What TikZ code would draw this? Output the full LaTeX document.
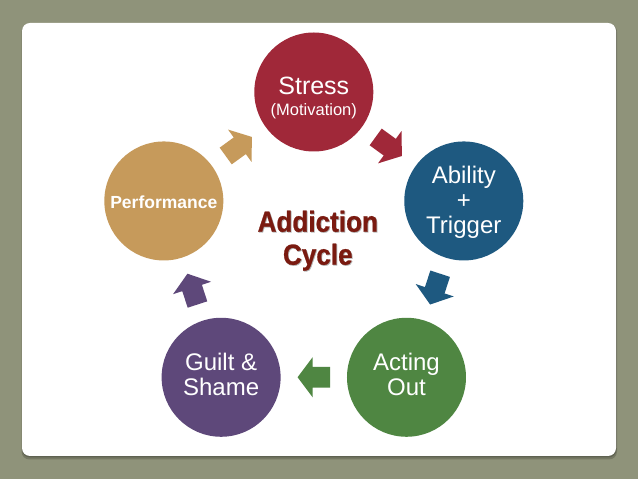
\documentclass[tikz,border=0pt]{standalone}
\usepackage{fontspec}
\setmainfont{Liberation Sans}
\newfontfamily\titlefont[FakeBold=0.9]{Liberation Sans Bold}
\usetikzlibrary{calc}
\definecolor{bgc}{RGB}{143,147,122}
\definecolor{cred}{RGB}{160,40,57}
\definecolor{cblue}{RGB}{30,89,128}
\definecolor{cgreen}{RGB}{79,134,66}
\definecolor{cpurple}{RGB}{94,72,122}
\definecolor{ctan}{RGB}{198,154,91}
\definecolor{ctitle}{RGB}{122,26,16}
\begin{document}
\begin{tikzpicture}[x=1pt,y=1pt,
  ball/.style={circle, minimum size=119pt, inner sep=0pt, fill=#1},
  lbl/.style={text=white, align=center, inner sep=0pt, font=\fontsize{24}{25}\selectfont},
  titlestyle/.style={align=center, inner sep=0pt, font=\titlefont\fontsize{29}{33}\selectfont},
  blockarrow/.pic={\fill[pic actions] (16.2,0) -- (1.2,20) -- (1.2,10.3) -- (-16.2,10.3)
      -- (-16.2,-10.3) -- (1.2,-10.3) -- (1.2,-20) -- cycle;},
  arr/.style={pos=0.5, sloped, allow upside down, fill=#1}
]
\fill[bgc] (0,0) rectangle (638,479);
\useasboundingbox (0,0) rectangle (638,479);
% card with shadow
\fill[black, opacity=0.18, rounded corners=8pt] (21.5,19.5) rectangle (617,455);
\fill[black, opacity=0.18, rounded corners=8pt] (22,21.5) rectangle (616.5,455.5);
\fill[white, rounded corners=8pt] (22,23) rectangle (616,456);

\coordinate (O) at (313.8,229.3);
\node[ball=cred]    (stress)  at ($(O)+(90:157.7)$)   {};
\node[ball=cblue]   (ability) at ($(O)+(18:157.7)$)   {};
\node[ball=cgreen]  (acting)  at ($(O)+(-54:157.7)$)  {};
\node[ball=cpurple] (guilt)   at ($(O)+(-126:157.7)$) {};
\node[ball=ctan]    (perf)    at ($(O)+(162:157.7)$)  {};

% block arrows
\path (stress)  -- (ability) pic[arr=cred]    {blockarrow};
\path (ability) -- (acting)  pic[arr=cblue]   {blockarrow};
\path (acting)  -- (guilt)   pic[arr=cgreen]  {blockarrow};
\path (guilt)   -- (perf)    pic[arr=cpurple] {blockarrow};
\path (perf)    -- (stress)  pic[arr=ctan]    {blockarrow};

% labels
\node[lbl, font=\fontsize{25}{25}\selectfont] (stresst) at ([yshift=6pt]stress.center) {Stress};
\node[lbl, font=\fontsize{16.5}{18}\selectfont] (motiv) at ([yshift=-19pt]stress.center) {(Motivation)};
\node[lbl] (abilityt) at ([yshift=-1pt]ability.center) {Ability\\+\\Trigger};
\node[lbl] (actingt) at ([yshift=2.5pt]acting.center) {Acting\\Out};
\node[lbl] (guiltt) at ([yshift=2.5pt]guilt.center) {Guilt \&\\Shame};
\node[lbl, font=\bfseries\fontsize{17.5}{20}\selectfont] (perft) at ([yshift=-1pt]perf.center) {Performance};

% title
\node[titlestyle, text=black!30] (titleshadow) at ($(O)+(4.8,8.2)$)
  {\scalebox{0.9}[1]{Addiction}\\\scalebox{0.9}[1]{Cycle}};
\node[titlestyle, text=ctitle] (title) at ($(O)+(4,9)$)
  {\scalebox{0.9}[1]{Addiction}\\\scalebox{0.9}[1]{Cycle}};
\end{tikzpicture}
\end{document}
